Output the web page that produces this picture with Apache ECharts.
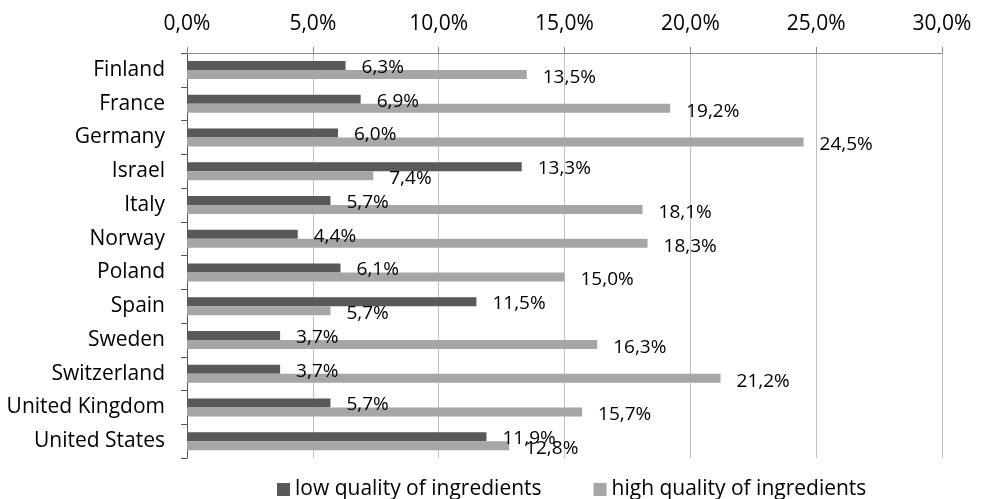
<!DOCTYPE html>
<html>
<head>
<meta charset="utf-8">
<script src="https://cdn.jsdelivr.net/npm/echarts@6/dist/echarts.min.js"></script>
<style>
  html, body { margin: 0; padding: 0; background: #fff; }
  #chart { width: 982px; height: 499px; }
</style>
</head>
<body>
<div id="chart"></div>
<script>
// Countries, top to bottom
const countries = ['Finland', 'France', 'Germany', 'Israel', 'Italy', 'Norway', 'Poland',
  'Spain', 'Sweden', 'Switzerland', 'United Kingdom', 'United States'];
// Share of responses (%)
const lowQuality = [6.3, 6.9, 6.0, 13.3, 5.7, 4.4, 6.1, 11.5, 3.7, 3.7, 5.7, 11.9];
const highQuality = [13.5, 19.2, 24.5, 7.4, 18.1, 18.3, 15.0, 5.7, 16.3, 21.2, 15.7, 12.8];
const seriesNames = ['low quality of ingredients', 'high quality of ingredients'];

const FONT = '"Open Sans", sans-serif';
const pct = v => v.toFixed(1).replace('.', ',') + '%';

const chart = echarts.init(document.getElementById('chart'));
chart.setOption({
  animation: false,
  textStyle: { fontFamily: FONT, color: '#000' },
  grid: { left: 187, right: 40, top: 53, bottom: 41, containLabel: false },
  legend: {
    bottom: -6,
    left: 272,
    itemWidth: 13,
    itemHeight: 13,
    itemGap: 52,
    icon: 'rect',
    textStyle: { fontFamily: FONT, fontSize: 21, color: '#000' },
    data: seriesNames
  },
  xAxis: {
    type: 'value',
    position: 'top',
    min: 0,
    max: 30,
    interval: 5,
    axisLine: { show: true, lineStyle: { color: '#8c8c8c', width: 1 } },
    axisTick: { show: true, length: 6, lineStyle: { color: '#8c8c8c' } },
    axisLabel: { formatter: pct, fontSize: 21, color: '#000', margin: 18, fontFamily: FONT },
    splitLine: { show: true, lineStyle: { color: '#c0c0c0', width: 1 } }
  },
  yAxis: {
    type: 'category',
    inverse: true,
    data: countries,
    axisLine: { show: true, lineStyle: { color: '#555', width: 1 } },
    axisTick: { show: true, length: 6, lineStyle: { color: '#555' } },
    axisLabel: { fontSize: 21, color: '#000', margin: 22, fontFamily: FONT }
  },
  series: [
    {
      name: seriesNames[0],
      type: 'bar',
      data: lowQuality,
      barWidth: 9,
      barGap: '0%',
      itemStyle: { color: '#595959' },
      label: {
        show: true, position: 'right', distance: 16, offset: [0, 2],
        formatter: p => pct(p.value), fontSize: 19, color: '#000', fontFamily: FONT
      }
    },
    {
      name: seriesNames[1],
      type: 'bar',
      data: highQuality,
      barWidth: 9,
      barGap: '0%',
      itemStyle: { color: '#a6a6a6' },
      label: {
        show: true, position: 'right', distance: 16, offset: [0, 3],
        formatter: p => pct(p.value), fontSize: 19, color: '#000', fontFamily: FONT
      }
    }
  ]
});
</script>
</body>
</html>
